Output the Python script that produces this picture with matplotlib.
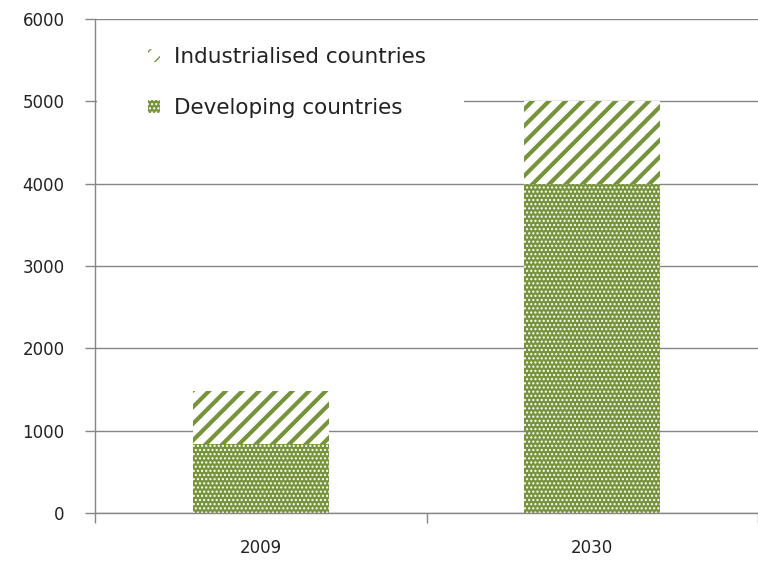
import matplotlib
matplotlib.use("Agg")
import matplotlib.pyplot as plt
from matplotlib.patches import Rectangle

categories = ["2009", "2030"]
developing = [840, 3990]
industrialised = [640, 1010]
series_labels = ["Industrialised countries", "Developing countries"]
yticks = [0, 1000, 2000, 3000, 4000, 5000, 6000]

green = "#77933C"
grey = "#868686"

fig = plt.figure(figsize=(7.58, 5.61), dpi=100)
ax = fig.add_axes([95/758, 48/561, 663/758, 494/561])

x = list(range(len(categories)))
w = 0.41
b_dev = ax.bar(x, developing, width=w, color=green, edgecolor="white",
               hatch="....", linewidth=0, zorder=2)
b_ind = ax.bar(x, industrialised, width=w, bottom=developing, color="white",
               edgecolor=green, hatch="//", linewidth=0, zorder=2)
for p in b_dev:
    try:
        p.set_hatch_linewidth(1.0)
    except Exception:
        pass
for p in b_ind:
    try:
        p.set_hatch_linewidth(3.0)
    except Exception:
        pass

ax.set_xlim(-0.5, 1.5)
ax.set_ylim(0, 6000)
ax.set_yticks(yticks)
ax.set_yticklabels([str(v) for v in yticks])
ax.set_xticks([-0.5, 0.5, 1.5])
ax.set_xticklabels([])
ax.set_xticks(x, minor=True)
ax.set_xticklabels(categories, minor=True)
ax.tick_params(axis="x", which="major", length=7, color=grey, width=1, direction="out")
ax.tick_params(axis="x", which="minor", length=0, pad=19, labelsize=12, labelcolor="#222222")
ax.tick_params(axis="y", length=7, color=grey, width=1, pad=15, labelsize=12, labelcolor="#222222")

ax.set_axisbelow(True)
ax.yaxis.grid(True, color=grey, linewidth=1)
for s in ["top", "right"]:
    ax.spines[s].set_visible(False)
for s in ["left", "bottom"]:
    ax.spines[s].set_color(grey)
    ax.spines[s].set_linewidth(1)

# white legend area covering grid
ax.add_patch(Rectangle((0.003, (513-135)/494), (464-97)/663, (135-30)/494,
                       transform=ax.transAxes, facecolor="white", edgecolor="none", zorder=1))

leg = ax.legend([b_ind[0], b_dev[0]], series_labels, loc="upper left",
                bbox_to_anchor=((148-95)/663, (513-47)/494), frameon=False,
                borderpad=0, borderaxespad=0, handlelength=0.55, handleheight=0.55,
                handletextpad=0.65, labelspacing=1.45, fontsize=15.5)
for t in leg.get_texts():
    t.set_color("#222222")

fig.savefig("out.png", dpi=100)
